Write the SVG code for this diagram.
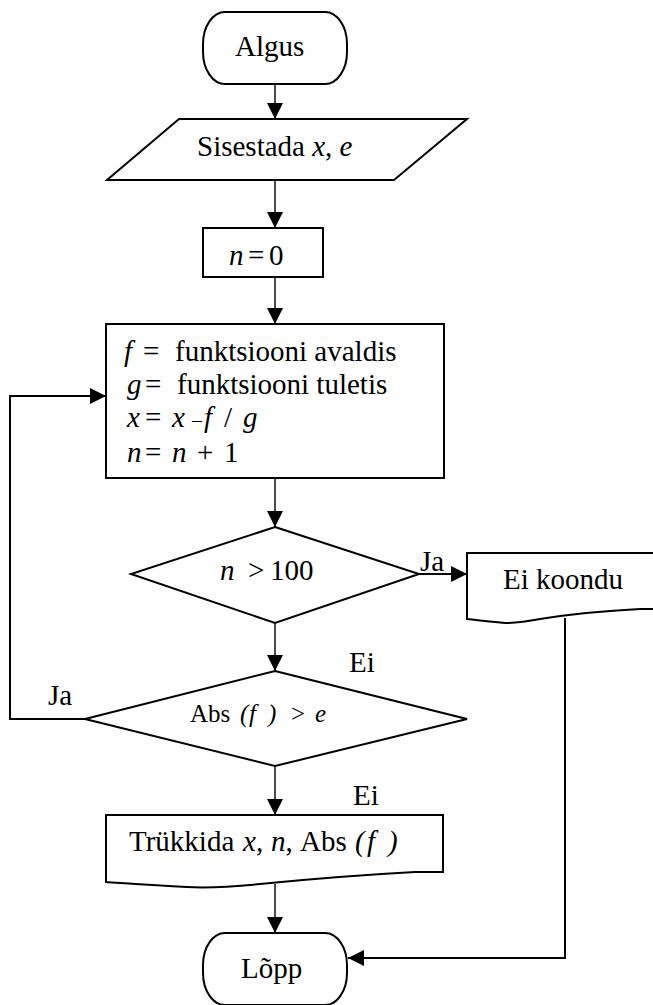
<svg xmlns="http://www.w3.org/2000/svg" width="653" height="1005" viewBox="0 0 653 1005">
<style>
.shape{fill:#fff;stroke:#000;stroke-width:2}
.conn{fill:none;stroke:#000;stroke-width:1.4}
.loop{fill:none;stroke:#000;stroke-width:2}
text{font-family:"Liberation Serif","Times New Roman",serif;font-size:29px;fill:#000}
.i{font-style:italic}
.sm{font-size:25px}
.dash{font-size:20px}
</style>
<defs>
<marker id="ah" markerWidth="16" markerHeight="16" refX="16" refY="8" orient="auto" markerUnits="userSpaceOnUse">
<path d="M0,0 L16,8 L0,16 Z" fill="#000"/>
</marker>
</defs>
<rect width="653" height="1005" fill="#fff"/>
<g id="connectors">
<path class="conn" d="M275,84 V119" marker-end="url(#ah)"/>
<path class="conn" d="M275,180 V228" marker-end="url(#ah)"/>
<path class="conn" d="M275,277 V324" marker-end="url(#ah)"/>
<path class="conn" d="M275,478 V527" marker-end="url(#ah)"/>
<path class="conn" d="M275,623 V671" marker-end="url(#ah)"/>
<path class="loop" d="M419,574 H467" marker-end="url(#ah)"/>
<path class="conn" d="M275,766 V815" marker-end="url(#ah)"/>
<path class="conn" d="M275,884 V933" marker-end="url(#ah)"/>
<path class="loop" d="M85,719 H10 V396 H106" marker-end="url(#ah)"/>
<path class="loop" d="M565,618 V958 H348" marker-end="url(#ah)"/>
<text x="420" y="571">Ja</text>
<text x="349" y="672">Ei</text>
<text x="48" y="705">Ja</text>
<text x="353" y="805">Ei</text>
</g>
<g id="start">
<rect class="shape" x="203" y="12" width="144" height="72" rx="22" ry="32"/>
<text x="235" y="56">Algus</text>
</g>
<g id="input">
<path class="shape" d="M179,119 H467 L394,180 H107 Z"/>
<text x="197" y="156">Sisestada <tspan class="i">x</tspan>, <tspan class="i">e</tspan></text>
</g>
<g id="init">
<rect class="shape" x="203" y="228" width="120" height="49"/>
<text y="265"><tspan class="i" x="229">n</tspan><tspan x="248">=</tspan><tspan x="269">0</tspan></text>
</g>
<g id="process">
<rect class="shape" x="106" y="324" width="338" height="154"/>
<text y="361"><tspan class="i" x="124">f</tspan><tspan x="143">=</tspan><tspan x="175">funktsiooni avaldis</tspan></text>
<text y="394"><tspan class="i" x="127">g</tspan><tspan x="145">=</tspan><tspan x="177">funktsiooni tuletis</tspan></text>
<text y="427"><tspan class="i" x="127">x</tspan><tspan x="145">=</tspan><tspan class="i" x="172">x</tspan><tspan class="dash" x="192">–</tspan><tspan class="i" x="204">f</tspan><tspan x="224">/</tspan><tspan class="i" x="243">g</tspan></text>
<text y="462"><tspan class="i" x="127">n</tspan><tspan x="145">=</tspan><tspan class="i" x="172">n</tspan><tspan x="197">+</tspan><tspan x="224">1</tspan></text>
</g>
<g id="check-n">
<path class="shape" d="M275,527 L419,574 L275,623 L131,574 Z"/>
<text y="580"><tspan class="i" x="220">n</tspan><tspan x="248">&gt;</tspan><tspan x="270">100</tspan></text>
</g>
<g id="no-converge">
<path class="shape" d="M467,553 H680 V609 H640 C600,611 565,615 540,619 C525,622 515,623 505,623 C490,622 475,620 467,619 Z"/>
<text x="503" y="589">Ei koondu</text>
</g>
<g id="check-f">
<path class="shape" d="M275,671 L467,719 L275,766 L85,719 Z"/>
<text class="sm" y="722"><tspan x="190">Abs</tspan><tspan class="i" x="240">(</tspan><tspan class="i" x="249">f</tspan><tspan class="i" x="268">)</tspan><tspan x="291">&gt;</tspan><tspan class="i" x="315">e</tspan></text>
</g>
<g id="output">
<path class="shape" d="M106,815 H443 V872 H415 C360,875 300,880 260,884 C230,887 205,888 187,887 C150,885 122,883 106,882 Z"/>
<text y="851"><tspan x="129">Trükkida </tspan><tspan class="i" x="243">x</tspan><tspan>, </tspan><tspan class="i" x="271">n</tspan><tspan>, </tspan><tspan x="300">Abs</tspan><tspan class="i" x="355">(</tspan><tspan class="i" x="367">f</tspan><tspan class="i" x="388">)</tspan></text>
</g>
<g id="end">
<rect class="shape" x="203" y="933" width="144" height="72" rx="22" ry="32"/>
<text x="241" y="978">Lõpp</text>
</g>
</svg>
